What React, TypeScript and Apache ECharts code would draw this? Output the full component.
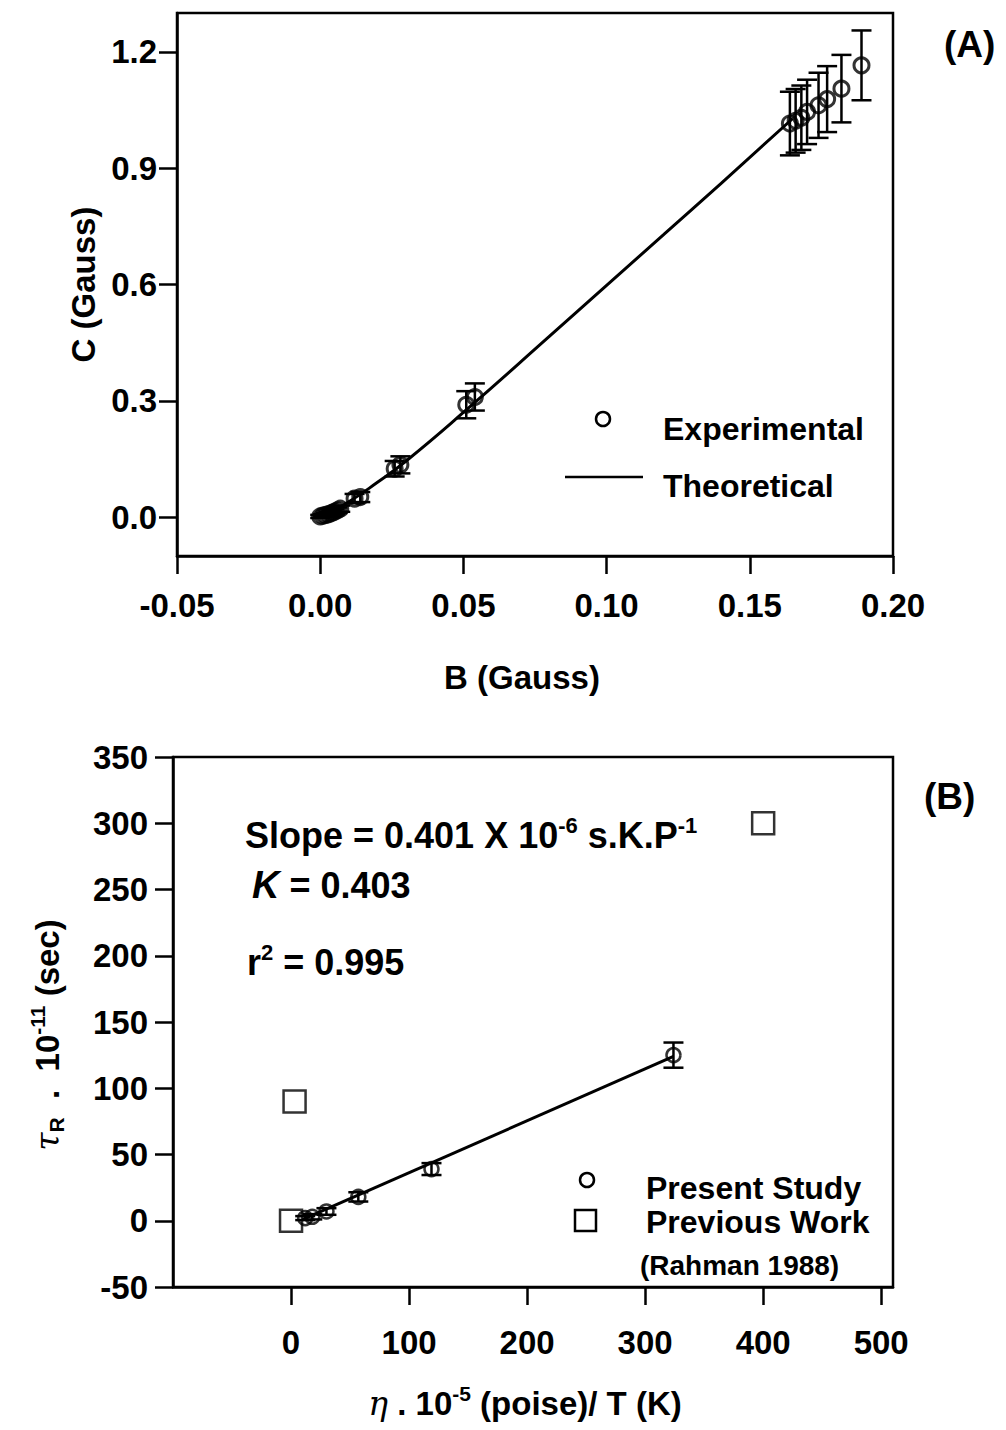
import React, { useEffect, useRef } from "react";
import * as echarts from "echarts";

// ---- Panel A data ----
const expB = [0.0, 0.001, 0.002, 0.003, 0.004, 0.005, 0.006, 0.007, 0.012, 0.014, 0.026, 0.028, 0.051, 0.054, 0.164, 0.166, 0.168, 0.17, 0.174, 0.177, 0.182, 0.189];
const expC = [0.002, 0.004, 0.006, 0.008, 0.011, 0.014, 0.018, 0.022, 0.048, 0.052, 0.125, 0.135, 0.29, 0.31, 1.015, 1.022, 1.03, 1.045, 1.062, 1.078, 1.105, 1.165];
const expErr = [0.004, 0.004, 0.005, 0.005, 0.006, 0.006, 0.007, 0.008, 0.012, 0.013, 0.02, 0.022, 0.035, 0.035, 0.082, 0.082, 0.083, 0.083, 0.084, 0.085, 0.087, 0.09];
const theoB = [0.0, 0.01, 0.02, 0.03, 0.05, 0.08, 0.1, 0.12, 0.14, 0.165];
const theoC = [0.0, 0.04, 0.09, 0.145, 0.27, 0.466, 0.598, 0.729, 0.861, 1.028];
const topXTicks = [-0.05, 0, 0.05, 0.1, 0.15, 0.2];
const topYTicks = [0, 0.3, 0.6, 0.9, 1.2];

// ---- Panel B data ----
const presX = [12, 18, 30, 57, 119, 324];
const presY = [2, 3, 7, 18, 39, 125];
const presErr = [1.5, 2, 2.5, 3.5, 4.5, 9.5];
const prevX = [0, 3, 400];
const prevY = [0, 90, 300];
const fitX = [10, 324];
const fitY = [1, 124];
const botXTicks = [0, 100, 200, 300, 400, 500];

const FONT = "'Liberation Sans', Arial, sans-serif";
const K = "#000";

function errRender(cap: number) {
  return (params: any, api: any) => {
    const x = api.value(0);
    const y = api.value(1);
    const e = api.value(2);
    const hi = api.coord([x, y + e]);
    const lo = api.coord([x, y - e]);
    const st = { stroke: K, lineWidth: 2.5 };
    return {
      type: "group",
      children: [
        { type: "line", shape: { x1: hi[0], y1: hi[1], x2: lo[0], y2: lo[1] }, style: st },
        { type: "line", shape: { x1: hi[0] - cap, y1: hi[1], x2: hi[0] + cap, y2: hi[1] }, style: st },
        { type: "line", shape: { x1: lo[0] - cap, y1: lo[1], x2: lo[0] + cap, y2: lo[1] }, style: st },
      ],
    };
  };
}

const axisCommon = {
  axisLine: { show: true, onZero: false, lineStyle: { color: K, width: 2.5 } },
  axisTick: { show: true, inside: false, length: 18, lineStyle: { color: K, width: 2.5 } },
  splitLine: { show: false },
};
const labelStyle = { color: K, fontFamily: FONT, fontWeight: "bold", fontSize: 33 };

function makeRich(size: number, supSize: number, lh: number) {
  return {
    a: { fontFamily: FONT, fontWeight: "bold", fontSize: size, color: K, lineHeight: lh },
    i: { fontFamily: "'DejaVu Serif', serif", fontStyle: "italic", fontSize: size, color: K, lineHeight: lh },
    ik: { fontFamily: FONT, fontStyle: "italic", fontWeight: "bold", fontSize: size + 2, color: K, lineHeight: lh },
    sup: { fontFamily: FONT, fontWeight: "bold", fontSize: supSize, color: K, verticalAlign: "top", lineHeight: supSize + 4 },
    sub: { fontFamily: FONT, fontWeight: "bold", fontSize: supSize, color: K, verticalAlign: "bottom", lineHeight: supSize + 4 },
  };
}

export default function App() {
  const ref = useRef<HTMLDivElement>(null);
  useEffect(() => {
    document.body.style.margin = "0";
    const chart = echarts.init(ref.current!, null, { renderer: "svg" });
    const richAxis = makeRich(33, 21, 40);
    const richAnn = makeRich(36, 22, 42);
    const option: any = {
      animation: false,
      backgroundColor: "#fff",
      grid: [
        { left: 177, top: 13, width: 716, height: 543, show: true, borderColor: K, borderWidth: 2.5 },
        { left: 173, top: 757, width: 720, height: 530, show: true, borderColor: K, borderWidth: 2.5 },
      ],
      xAxis: [
        {
          ...axisCommon,
          gridIndex: 0,
          type: "value",
          min: -0.05,
          max: 0.2,
          interval: 0.05,
          axisTick: { ...axisCommon.axisTick, customValues: topXTicks },
          axisLabel: { ...labelStyle, margin: 33, customValues: topXTicks, formatter: (v: number) => v.toFixed(2) },
          name: "B (Gauss)",
          nameLocation: "middle",
          nameGap: 105,
          nameTextStyle: { ...labelStyle, padding: [0, 26, 0, 0] },
        },
        {
          ...axisCommon,
          gridIndex: 1,
          type: "value",
          min: -100,
          max: 510,
          axisTick: { ...axisCommon.axisTick, customValues: botXTicks },
          axisLabel: { ...labelStyle, margin: 39, customValues: botXTicks },
          name: "{i|η}{a| . 10}{sup|-5}{a| (poise)/ T (K)}",
          nameLocation: "middle",
          nameGap: 96,
          nameTextStyle: { rich: richAxis, padding: [0, 16, 0, 0] },
        },
      ],
      yAxis: [
        {
          ...axisCommon,
          gridIndex: 0,
          type: "value",
          min: -0.1,
          max: 1.3,
          axisTick: { ...axisCommon.axisTick, customValues: topYTicks },
          axisLabel: { ...labelStyle, margin: 20, customValues: topYTicks, formatter: (v: number) => v.toFixed(1) },
          name: "C (Gauss)",
          nameLocation: "middle",
          nameGap: 48,
          nameRotate: 90,
          nameTextStyle: { ...labelStyle },
        },
        {
          ...axisCommon,
          gridIndex: 1,
          type: "value",
          min: -50,
          max: 350,
          interval: 50,
          axisLabel: { ...labelStyle, margin: 25 },
          name: "{i|τ}{sub|R}{a|  .  10}{sup|-11}{a| (sec)}",
          nameLocation: "middle",
          nameGap: 106,
          nameRotate: 90,
          nameTextStyle: { rich: richAxis, padding: [0, 26, 0, 0] },
        },
      ],
      series: [
        {
          type: "custom",
          xAxisIndex: 0,
          yAxisIndex: 0,
          renderItem: errRender(10),
          encode: { x: 0, y: 1 },
          data: expB.map((b, i) => [b, expC[i], expErr[i]]),
          z: 2,
        },
        {
          type: "line",
          xAxisIndex: 0,
          yAxisIndex: 0,
          data: theoB.map((b, i) => [b, theoC[i]]),
          showSymbol: false,
          smooth: true,
          lineStyle: { color: K, width: 3 },
          z: 3,
        },
        {
          type: "scatter",
          xAxisIndex: 0,
          yAxisIndex: 0,
          data: expB.map((b, i) => [b, expC[i]]),
          symbol: "circle",
          symbolSize: 15,
          itemStyle: { color: "rgba(0,0,0,0)", borderColor: K, borderWidth: 3 },
          z: 4,
        },
        {
          type: "custom",
          xAxisIndex: 1,
          yAxisIndex: 1,
          renderItem: errRender(10),
          encode: { x: 0, y: 1 },
          data: presX.map((x, i) => [x, presY[i], presErr[i]]),
          z: 2,
        },
        {
          type: "line",
          xAxisIndex: 1,
          yAxisIndex: 1,
          data: fitX.map((x, i) => [x, fitY[i]]),
          showSymbol: false,
          lineStyle: { color: K, width: 3 },
          z: 3,
        },
        {
          type: "scatter",
          xAxisIndex: 1,
          yAxisIndex: 1,
          data: presX.map((x, i) => [x, presY[i]]),
          symbol: "circle",
          symbolSize: 14,
          itemStyle: { color: "rgba(0,0,0,0)", borderColor: K, borderWidth: 2.5 },
          z: 4,
        },
        {
          type: "scatter",
          xAxisIndex: 1,
          yAxisIndex: 1,
          data: prevX.map((x, i) => [x, prevY[i]]),
          symbol: "rect",
          symbolSize: 22,
          itemStyle: { color: "rgba(0,0,0,0)", borderColor: K, borderWidth: 2.5 },
          z: 4,
        },
      ],
      graphic: [
        // panel labels
        { type: "text", left: 944, top: 26, style: { text: "(A)", font: `bold 37px ${FONT}`, fill: K } },
        { type: "text", left: 924, top: 778, style: { text: "(B)", font: `bold 37px ${FONT}`, fill: K } },
        // legend A
        { type: "circle", shape: { cx: 603, cy: 419, r: 7 }, style: { fill: "none", stroke: K, lineWidth: 2.5 } },
        { type: "text", x: 663, y: 429, style: { text: "Experimental", font: `bold 32px ${FONT}`, fill: K, textVerticalAlign: "middle" } },
        { type: "line", shape: { x1: 565, y1: 477, x2: 643, y2: 477 }, style: { stroke: K, lineWidth: 2.5 } },
        { type: "text", x: 663, y: 486, style: { text: "Theoretical", font: `bold 32px ${FONT}`, fill: K, textVerticalAlign: "middle" } },
        // legend B
        { type: "circle", shape: { cx: 587, cy: 1180, r: 7 }, style: { fill: "none", stroke: K, lineWidth: 2.5 } },
        { type: "text", x: 646, y: 1188, style: { text: "Present Study", font: `bold 32px ${FONT}`, fill: K, textVerticalAlign: "middle" } },
        { type: "rect", shape: { x: 575, y: 1210, width: 21, height: 21 }, style: { fill: "none", stroke: K, lineWidth: 2.5 } },
        { type: "text", x: 646, y: 1222, style: { text: "Previous Work", font: `bold 32px ${FONT}`, fill: K, textVerticalAlign: "middle" } },
        { type: "text", x: 640, y: 1265, style: { text: "(Rahman 1988)", font: `bold 28px ${FONT}`, fill: K, textVerticalAlign: "middle" } },
        // annotations B
        {
          type: "text",
          x: 245,
          y: 814,
          style: { text: "{a|Slope = 0.401 X 10}{sup|-6}{a| s.K.P}{sup|-1}", rich: richAnn },
        },
        {
          type: "text",
          x: 252,
          y: 864,
          style: { text: "{ik|K}{a| = 0.403}", rich: richAnn },
        },
        {
          type: "text",
          x: 247,
          y: 941,
          style: { text: "{a|r}{sup|2}{a| = 0.995}", rich: richAnn },
        },
      ],
    };
    chart.setOption(option);
    return () => chart.dispose();
  }, []);
  return <div ref={ref} style={{ width: 1006, height: 1430 }} />;
}
